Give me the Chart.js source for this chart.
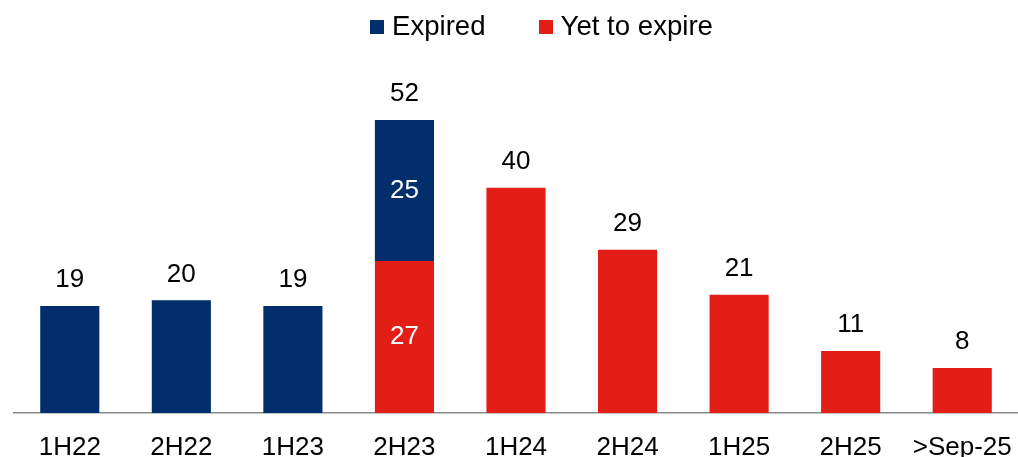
<!DOCTYPE html>
<html>
<head>
<meta charset="utf-8">
<script src="https://cdn.jsdelivr.net/npm/chart.js@4.4.0/dist/chart.umd.min.js"></script>
<style>
  html, body { margin: 0; padding: 0; background: #fff; }
  #wrap { position: relative; width: 1018px; height: 457px; }
  #legend { position: absolute; top: 8px; left: 370px; height: 36px; display: flex; align-items: center;
            font-family: "Liberation Sans", Arial, sans-serif; font-size: 27.6px; color: #000; white-space: nowrap; }
  .item { display: flex; align-items: center; }
  .box { width: 14px; height: 14px; margin-right: 8px; margin-top: 2px; }
  canvas { position: absolute; left: 0; top: 0; }
</style>
</head>
<body>
<div id="wrap">
  <canvas id="c" width="1018" height="457"></canvas>
  <div id="legend"></div>
</div>
<script>
const categories = ["1H22", "2H22", "1H23", "2H23", "1H24", "2H24", "1H25", "2H25", ">Sep-25"];
const expired    = [19, 20, 19, 25, 0, 0, 0, 0, 0];
const yetToExpire = [0, 0, 0, 27, 40, 29, 21, 11, 8];
const seriesNames = ["Expired", "Yet to expire"];
const colors = { expired: "#022F6B", yet: "#E31E16" };

const FONT = '"Liberation Sans", Arial, sans-serif';

// HTML legend
const legendEl = document.getElementById('legend');
[[seriesNames[0], colors.expired, 0], [seriesNames[1], colors.yet, 53]].forEach(([name, col, ml]) => {
  const it = document.createElement('div');
  it.className = 'item';
  it.style.marginLeft = ml + 'px';
  const b = document.createElement('span');
  b.className = 'box';
  b.style.background = col;
  const t = document.createElement('span');
  t.textContent = name;
  it.appendChild(b); it.appendChild(t);
  legendEl.appendChild(it);
});

const labelPlugin = {
  id: 'labels',
  afterDatasetsDraw(chart) {
    const ctx = chart.ctx;
    const yScale = chart.scales.y;
    ctx.save();
    ctx.font = '26px ' + FONT;
    ctx.textAlign = 'center';
    ctx.textBaseline = 'middle';
    const metaYet = chart.getDatasetMeta(0);
    const metaExp = chart.getDatasetMeta(1);
    categories.forEach((c, i) => {
      const e = expired[i], y = yetToExpire[i];
      const total = e + y;
      const el = (e ? metaExp : metaYet).data[i];
      const x = el.x;
      ctx.fillStyle = '#000';
      ctx.fillText(String(total), x, yScale.getPixelForValue(total) - 26);
      if (e && y) {
        ctx.fillStyle = '#fff';
        ctx.fillText(String(y), x, (yScale.getPixelForValue(0) + yScale.getPixelForValue(y)) / 2);
        ctx.fillText(String(e), x, (yScale.getPixelForValue(y) + yScale.getPixelForValue(total)) / 2);
      }
    });
    ctx.restore();
  }
};

new Chart(document.getElementById('c'), {
  type: 'bar',
  data: {
    labels: categories,
    datasets: [
      { label: seriesNames[1], data: yetToExpire.map(v => v || null), backgroundColor: colors.yet,
        barPercentage: 0.53, categoryPercentage: 1 },
      { label: seriesNames[0], data: expired.map(v => v || null), backgroundColor: colors.expired,
        barPercentage: 0.53, categoryPercentage: 1 }
    ]
  },
  options: {
    responsive: false,
    animation: false,
    layout: { padding: { left: 14, right: -2, top: 75, bottom: 0 } },
    plugins: { legend: { display: false }, tooltip: { enabled: false } },
    scales: {
      x: {
        stacked: true,
        grid: { display: false },
        border: { display: true, color: '#8a8a8a', width: 1.5 },
        ticks: { color: '#000', font: { family: FONT, size: 26 }, padding: 11, maxRotation: 0, autoSkip: false },
        afterFit(s) { s.height = 44; s.paddingLeft = 0; s.paddingRight = 0; }
      },
      y: {
        stacked: true,
        display: false,
        min: 0,
        max: 60
      }
    }
  },
  plugins: [labelPlugin]
});
</script>
</body>
</html>
